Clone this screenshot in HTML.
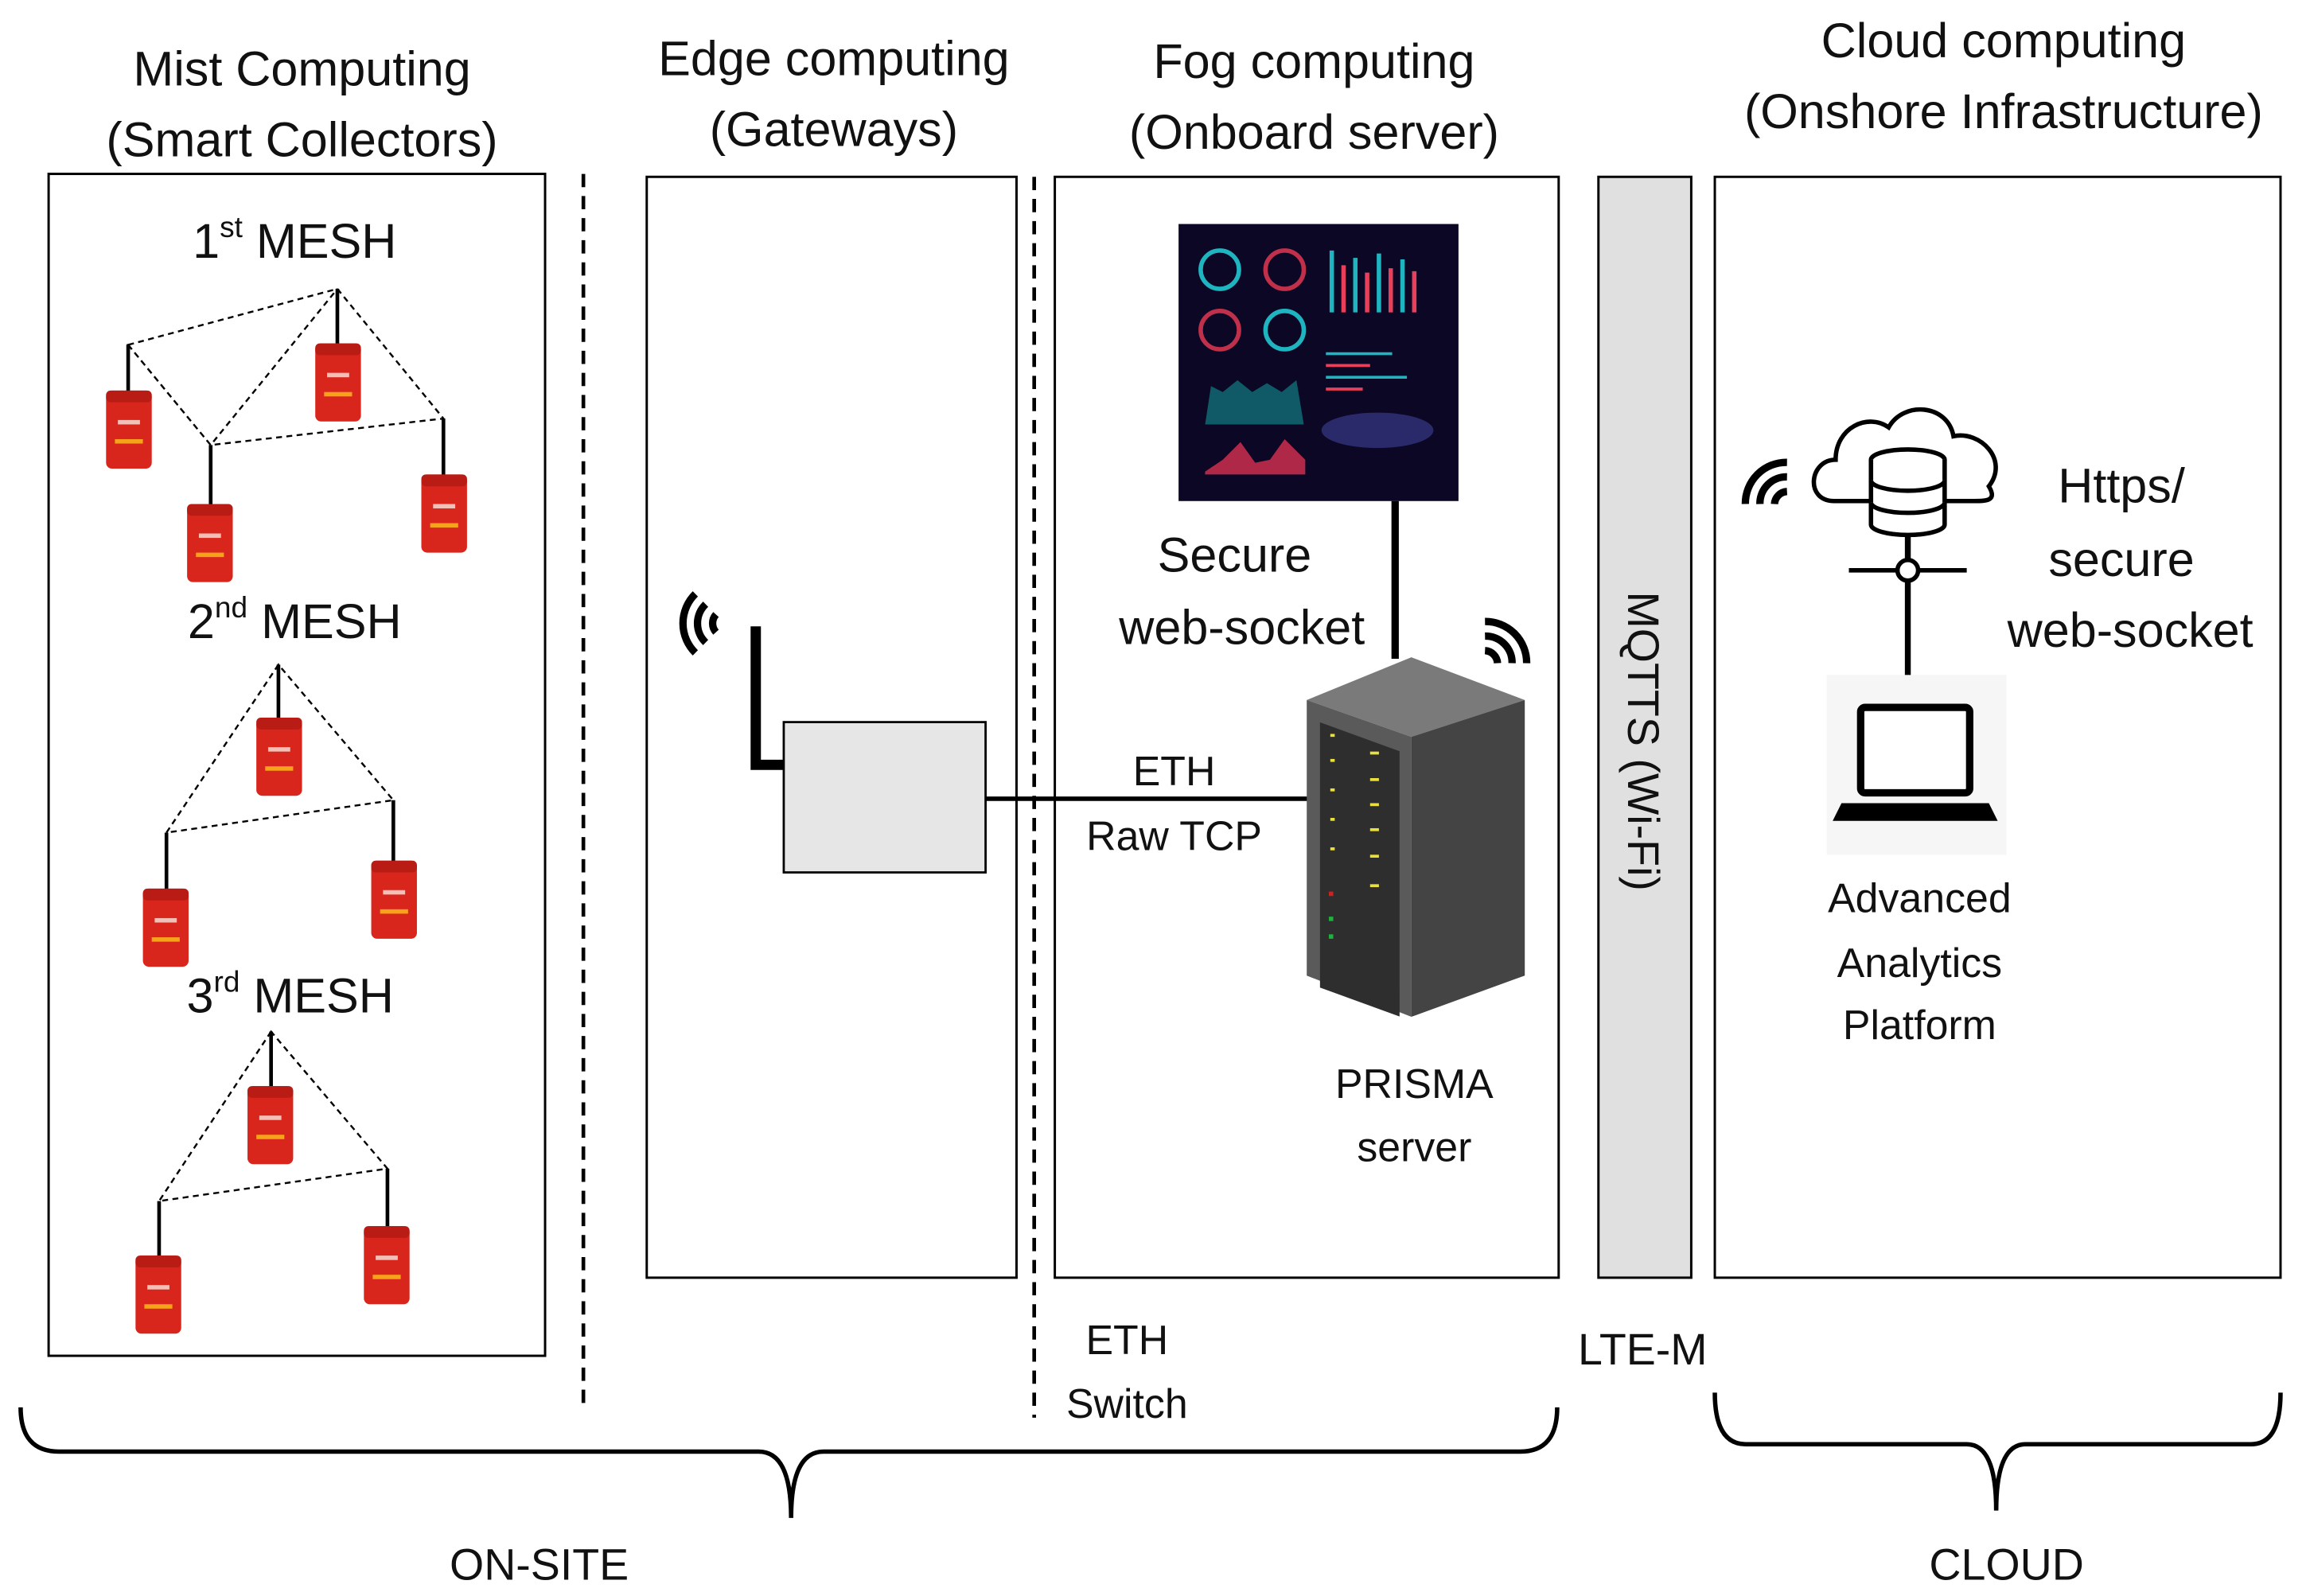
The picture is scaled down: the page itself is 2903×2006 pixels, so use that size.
<!DOCTYPE html>
<html><head><meta charset="utf-8"><style>
html,body{margin:0;padding:0;background:#fff;}
svg{display:block;}
text{font-family:"Liberation Sans","DejaVu Sans",sans-serif;fill:#111;}
</style></head><body>
<svg width="2903" height="2006" viewBox="0 0 1568 1083" preserveAspectRatio="none" xmlns="http://www.w3.org/2000/svg">
<defs>
<g id="dev">
<rect x="0" y="0" width="31" height="53" rx="4" fill="#d8261c"/>
<rect x="0" y="0" width="31" height="8" rx="3" fill="#b81c14"/>
<rect x="6" y="33" width="19" height="3" fill="#f7a21b"/>
<rect x="8" y="20" width="15" height="3" fill="#f3c0b8"/>
</g>
<g id="wifi" fill="none" stroke="#000" stroke-linecap="butt">
<path d="M0,0 m-6,-6 a9,9 0 0 1 12,0" stroke-width="5"/>
<path d="M0,0 m-13,-13 a18,18 0 0 1 26,0" stroke-width="5"/>
<path d="M0,0 m-20,-20 a28,28 0 0 1 40,0" stroke-width="5"/>
</g>
</defs>

<!-- titles -->
<g font-size="33" text-anchor="middle">
<text x="205" y="58">Mist Computing</text>
<text x="205" y="106">(Smart Collectors)</text>
<text x="566" y="51">Edge computing</text>
<text x="566" y="99">(Gateways)</text>
<text x="892" y="53">Fog computing</text>
<text x="892" y="101">(Onboard server)</text>
<text x="1360" y="39">Cloud computing</text>
<text x="1360" y="87">(Onshore Infrastructure)</text>
</g>

<!-- boxes -->
<g fill="none" stroke="#000" stroke-width="1.6">
<rect x="33" y="118" width="337" height="802"/>
<rect x="439" y="120" width="251" height="747"/>
<rect x="716" y="120" width="342" height="747"/>
<rect x="1164" y="120" width="384" height="747"/>
</g>
<rect x="1085" y="120" width="63" height="747" fill="#e0e0e0" stroke="#000" stroke-width="1.6"/>
<text font-size="30" text-anchor="middle" transform="translate(1105,503) rotate(90)">MQTTS (Wi-Fi)</text>

<g stroke="#000" stroke-width="2.5" stroke-dasharray="9,6">
<line x1="396" y1="118" x2="396" y2="958"/>
<line x1="702" y1="120" x2="702" y2="962"/>
</g>

<!-- mesh 1 -->
<text x="200" y="175" font-size="33" text-anchor="middle">1<tspan font-size="20" dy="-14">st</tspan><tspan dy="14"> MESH</tspan></text>
<g stroke="#000" stroke-width="1.3" stroke-dasharray="4,3" fill="none">
<path d="M87,234 L229,196 L301,284 L143,302 Z M87,234 L143,302 L229,196"/>
<path d="M189,451 L113,565 L267,543 Z"/>
<path d="M184,700 L108,815 L263,793 Z"/>
</g>
<g stroke="#000" stroke-width="2.5">
<line x1="87" y1="234" x2="87" y2="268"/><line x1="229" y1="196" x2="229" y2="236"/>
<line x1="143" y1="302" x2="143" y2="345"/><line x1="301" y1="284" x2="301" y2="325"/>
<line x1="189" y1="451" x2="189" y2="490"/><line x1="113" y1="565" x2="113" y2="606"/><line x1="267" y1="543" x2="267" y2="585"/>
<line x1="184" y1="700" x2="184" y2="740"/><line x1="108" y1="815" x2="108" y2="855"/><line x1="263" y1="793" x2="263" y2="835"/>
</g>
<use href="#dev" x="72" y="265"/><use href="#dev" x="214" y="233"/><use href="#dev" x="127" y="342"/><use href="#dev" x="286" y="322"/>
<text x="200" y="433" font-size="33" text-anchor="middle">2<tspan font-size="20" dy="-14">nd</tspan><tspan dy="14"> MESH</tspan></text>
<use href="#dev" x="174" y="487"/><use href="#dev" x="97" y="603"/><use href="#dev" x="252" y="584"/>
<text x="197" y="687" font-size="33" text-anchor="middle">3<tspan font-size="20" dy="-14">rd</tspan><tspan dy="14"> MESH</tspan></text>
<use href="#dev" x="168" y="737"/><use href="#dev" x="92" y="852"/><use href="#dev" x="247" y="832"/>

<!-- gateway -->
<path d="M513,425 L513,519 L532,519" fill="none" stroke="#000" stroke-width="7"/>
<use href="#wifi" transform="translate(492,423) rotate(-90)"/>
<rect x="532" y="490" width="137" height="102" fill="#e6e6e6" stroke="#000" stroke-width="1.5"/>
<line x1="669" y1="542" x2="890" y2="542" stroke="#000" stroke-width="3"/>
<text x="797" y="533" font-size="28" text-anchor="middle">ETH</text>
<text x="797" y="577" font-size="28" text-anchor="middle">Raw TCP</text>

<!-- dashboard -->
<rect x="800" y="152" width="190" height="188" fill="#0b0724"/>
<g fill="none" stroke-width="3">
<circle cx="828" cy="183" r="13" stroke="#1fb5c0"/><circle cx="872" cy="183" r="13" stroke="#c0304a"/>
<circle cx="828" cy="224" r="13" stroke="#c0304a"/><circle cx="872" cy="224" r="13" stroke="#1fb5c0"/>
</g>
<g stroke-width="3">
<line x1="904" y1="170" x2="904" y2="212" stroke="#1fb5c0"/><line x1="912" y1="180" x2="912" y2="212" stroke="#e8405a"/>
<line x1="920" y1="175" x2="920" y2="212" stroke="#1fb5c0"/><line x1="928" y1="185" x2="928" y2="212" stroke="#e8405a"/>
<line x1="936" y1="172" x2="936" y2="212" stroke="#1fb5c0"/><line x1="944" y1="182" x2="944" y2="212" stroke="#e8405a"/>
<line x1="952" y1="176" x2="952" y2="212" stroke="#1fb5c0"/><line x1="960" y1="184" x2="960" y2="212" stroke="#e8405a"/>
</g>
<g stroke-width="2">
<line x1="900" y1="240" x2="945" y2="240" stroke="#1fb5c0"/><line x1="900" y1="248" x2="930" y2="248" stroke="#e8405a"/>
<line x1="900" y1="256" x2="955" y2="256" stroke="#1fb5c0"/><line x1="900" y1="264" x2="925" y2="264" stroke="#e8405a"/>
</g>
<path d="M818,288 L822,262 L830,266 L840,258 L850,266 L860,260 L870,266 L880,258 L885,288 Z" fill="#0f5a66"/>
<path d="M818,320 L830,312 L842,300 L852,314 L862,312 L872,298 L886,312 L886,322 L818,322 Z" fill="#b02848"/>
<ellipse cx="935" cy="292" rx="38" ry="12" fill="#2a2a6a"/>
<line x1="947" y1="340" x2="947" y2="447" stroke="#000" stroke-width="5"/>
<text x="838" y="388" font-size="33" text-anchor="middle">Secure</text>
<text x="843" y="437" font-size="33" text-anchor="middle">web-socket</text>

<!-- server -->
<polygon points="887,475 958,446 1035,475 958,500" fill="#7a7a7a"/>
<polygon points="887,475 958,500 958,690 887,662" fill="#5a5a5a"/>
<polygon points="958,500 1035,475 1035,662 958,690" fill="#444"/>
<rect x="896" y="490" width="54" height="180" fill="#2e2e2e" transform="skewY(20) translate(0,-326)"/>
<g fill="#e8e040">
<rect x="903" y="498" width="3" height="2"/><rect x="930" y="510" width="6" height="2"/>
<rect x="903" y="515" width="3" height="2"/><rect x="930" y="528" width="6" height="2"/>
<rect x="903" y="535" width="3" height="2"/><rect x="930" y="545" width="6" height="2"/>
<rect x="903" y="555" width="3" height="2"/><rect x="930" y="562" width="6" height="2"/>
<rect x="903" y="575" width="3" height="2"/><rect x="930" y="580" width="6" height="2"/>
<rect x="930" y="600" width="6" height="2"/>
</g>
<rect x="902" y="605" width="3" height="3" fill="#d02020"/><rect x="902" y="622" width="3" height="3" fill="#20b040"/><rect x="902" y="634" width="3" height="3" fill="#20b040"/>
<use href="#wifi" transform="translate(1008,450) rotate(45)"/>
<text x="960" y="745" font-size="28" text-anchor="middle">PRISMA</text>
<text x="960" y="788" font-size="28" text-anchor="middle">server</text>

<!-- cloud side -->
<use href="#wifi" transform="translate(1213,342) rotate(-45)"/>
<path d="M1245,340 C1225,340 1228,312 1246,312 C1246,290 1268,280 1282,290 C1292,272 1322,274 1326,296 C1344,292 1364,312 1350,330 C1356,340 1348,340 1340,340 Z" fill="#fff" stroke="#000" stroke-width="3"/>
<g fill="#fff" stroke="#000" stroke-width="3">
<ellipse cx="1295" cy="312" rx="25" ry="7"/>
<path d="M1270,312 V356 A25,7 0 0 0 1320,356 V312"/>
<path d="M1270,326 A25,7 0 0 0 1320,326 M1270,341 A25,7 0 0 0 1320,341"/>
</g>
<line x1="1255" y1="387" x2="1335" y2="387" stroke="#000" stroke-width="3"/>
<line x1="1295" y1="362" x2="1295" y2="478" stroke="#000" stroke-width="4"/>
<circle cx="1295" cy="387" r="7" fill="#fff" stroke="#000" stroke-width="3"/>
<rect x="1240" y="458" width="122" height="122" fill="#f6f6f6"/>
<rect x="1263" y="480" width="74" height="58" rx="3" fill="#fff" stroke="#000" stroke-width="5"/>
<path d="M1250,545 L1350,545 L1356,557 L1244,557 Z" fill="#000"/>
<text x="1440" y="341" font-size="33" text-anchor="middle">Https/</text>
<text x="1440" y="391" font-size="33" text-anchor="middle">secure</text>
<text x="1446" y="439" font-size="33" text-anchor="middle">web-socket</text>
<text x="1303" y="619" font-size="28" text-anchor="middle">Advanced</text>
<text x="1303" y="663" font-size="28" text-anchor="middle">Analytics</text>
<text x="1303" y="705" font-size="28" text-anchor="middle">Platform</text>

<!-- bottom -->
<text x="765" y="919" font-size="28" text-anchor="middle">ETH</text>
<text x="765" y="962" font-size="28" text-anchor="middle">Switch</text>
<text x="1115" y="926" font-size="30" text-anchor="middle">LTE-M</text>
<g fill="none" stroke="#000" stroke-width="3">
<path d="M14,955 Q14,985 40,985 L515,985 Q537,985 537,1030 Q537,985 559,985 L1032,985 Q1057,985 1057,955"/>
<path d="M1164,945 Q1164,980 1185,980 L1335,980 Q1355,980 1355,1025 Q1355,980 1375,980 L1528,980 Q1548,980 1548,945"/>
</g>
<text x="366" y="1072" font-size="30" text-anchor="middle">ON-SITE</text>
<text x="1362" y="1072" font-size="30" text-anchor="middle">CLOUD</text>
</svg>
</body></html>
